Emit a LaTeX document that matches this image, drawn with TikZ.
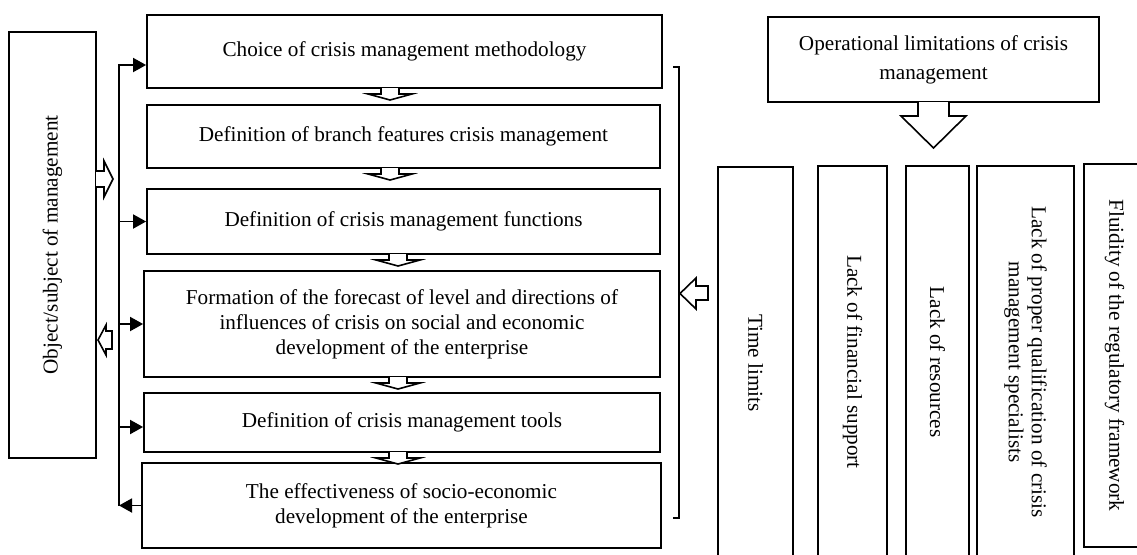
\documentclass[tikz,border=0pt]{standalone}
\usepackage{fontspec}
\setmainfont{Liberation Serif}
\usetikzlibrary{arrows.meta, calc}

\begin{document}
\begin{tikzpicture}[x=0.5pt, y=-0.5pt, line width=0.9pt,
  box/.style={draw, inner sep=2pt, align=center, font=\fontsize{10.6pt}{12.5pt}\selectfont},
  hollow/.style={draw, fill=white, line width=0.8pt, line join=miter},
  feed/.style={-{Triangle[length=6.5pt,width=7pt]}}]
\useasboundingbox (0,0) rectangle (1137,554);
\clip (0,0) rectangle (1137,554);

% left column
\node[box, rotate=90, minimum width=213pt, minimum height=43.5pt] (obj) at (52.5,245) {Object/subject of management};

% steps of crisis management
\node[box, minimum width=257.5pt, minimum height=36.5pt] (choice) at (404.5,51.5) {Choice of crisis management methodology};
\node[box, minimum width=256.5pt, minimum height=31.5pt] (branch) at (403.5,136.5) {Definition of branch features crisis management};
\node[box, minimum width=256.5pt, minimum height=32.5pt] (func) at (403.5,221.5) {Definition of crisis management functions};
\node[box, minimum width=258pt, minimum height=53pt] (forecast) at (402,324) {Formation of the forecast of level and directions of\\influences of crisis on social and economic\\development of the enterprise};
\node[box, minimum width=258pt, minimum height=29.5pt] (tools) at (402,422.5) {Definition of crisis management tools};
\node[box, minimum width=259.5pt, minimum height=42.5pt] (effect) at (401.5,505.5) {The effectiveness of socio-economic\\development of the enterprise};

% limitations
\node[box, minimum width=165.5pt, minimum height=42.5pt, font=\fontsize{10.6pt}{14.5pt}\selectfont] (oplim) at (933.5,59.5) {Operational limitations of crisis\\management};
\node[box, rotate=-90, minimum width=196pt, minimum height=37.5pt] (time) at (755.5,363) {Time limits};
\node[box, rotate=-90, minimum width=196pt, minimum height=34.5pt] (fin) at (852.5,362) {Lack of financial support};
\node[box, rotate=-90, minimum width=196pt, minimum height=31.5pt] (res) at (937.5,362) {Lack of resources};
\node[box, rotate=-90, minimum width=196pt, minimum height=48.5pt, font=\fontsize{10.6pt}{11.5pt}\selectfont] (qual) at (1025.5,362) {Lack of proper qualification of crisis\\management specialists};
\node[box, rotate=-90, minimum width=191.5pt, minimum height=30.5pt] (fluid) at (1114.5,355.5) {Fluidity of the regulatory framework};

% feedback bus
\coordinate (bustop) at (119,65);
\coordinate (busbot) at (bustop |- effect.west);
\draw[feed] (busbot) -- (bustop) -- (choice.west |- bustop);
\draw[feed] (func.west -| bustop) -- (func.west);
\draw[feed] (forecast.west -| bustop) -- (forecast.west);
\draw[feed] ([yshift=-2.25pt]tools.west -| bustop) -- ([yshift=-2.25pt]tools.west);
\draw[feed] (effect.west) -- (busbot);

% bracket
\coordinate (brtop) at (679,67);
\coordinate (brbot) at (679,518);
\draw ([xshift=-3pt]brtop) -- (brtop) -- (brbot) -- ([xshift=-3pt]brbot);

% hollow arrows
\foreach \cx/\cy in {390/88, 390/168, 398/254, 398/377, 398/452}
  \draw[hollow] (\cx-9,\cy) -- (\cx-9,\cy+6) -- (\cx-22,\cy+6) -- (\cx,\cy+12) -- (\cx+22,\cy+6) -- (\cx+9,\cy+6) -- (\cx+9,\cy);
\draw[hollow] (96,171) -- (104,171) -- (104,161) -- (113,179) -- (104,197) -- (104,187) -- (96,187);
\draw[hollow] (112,331) -- (106,331) -- (106,325) -- (98,340) -- (106,355) -- (106,349) -- (112,349) -- cycle;
\draw[hollow] (708,286) -- (696,286) -- (696,278) -- (680,293.5) -- (696,309) -- (696,300) -- (708,300) -- cycle;
\draw[hollow] (918,102) -- (918,116) -- (901,116) -- (933.5,148) -- (966,116) -- (949,116) -- (949,102);
\end{tikzpicture}
\end{document}
